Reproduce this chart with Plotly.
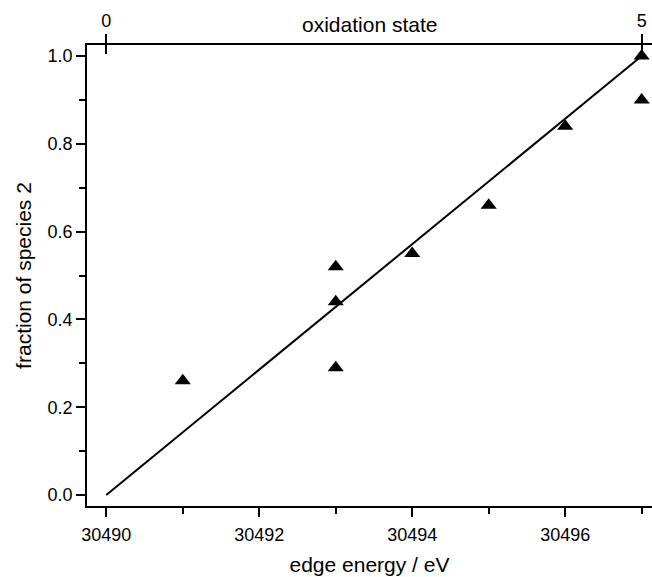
import plotly.graph_objects as go

# measured edge energies (eV) and fitted fraction of species 2
edge_energy = [30491, 30493, 30493, 30493, 30494, 30495, 30496, 30497, 30497]
fraction = [0.26, 0.52, 0.44, 0.29, 0.55, 0.66, 0.84, 1.00, 0.90]

# linear calibration between oxidation state 0 and 5
line_energy = [30490, 30497]
line_fraction = [0.0, 1.0]
ox_states = [0, 5]

x_range = [30489.748, 30497.135]
# oxidation state axis shares the energy axis: 0 -> 30490, 5 -> 30497
scale = (ox_states[1] - ox_states[0]) / (line_energy[1] - line_energy[0])
ox_range = [(x_range[0] - line_energy[0]) * scale, (x_range[1] - line_energy[0]) * scale]

font = "Liberation Sans, Arial, Helvetica, sans-serif"

fig = go.Figure()
fig.add_trace(go.Scatter(x=line_energy, y=line_fraction, mode="lines",
                         line=dict(color="black", width=2), showlegend=False))
fig.add_trace(go.Scatter(x=edge_energy, y=fraction, mode="markers",
                         marker=dict(symbol="triangle-up", size=14, color="black"),
                         showlegend=False, cliponaxis=False))

fig.update_layout(
    width=652, height=577,
    margin=dict(l=87, r=0, t=45, b=71),
    paper_bgcolor="white", plot_bgcolor="white",
    font=dict(family=font, color="black", size=18),
    xaxis=dict(range=x_range, tickvals=[30490, 30492, 30494, 30496],
               ticktext=["30490", "30492", "30494", "30496"],
               ticks="outside", ticklen=9, tickwidth=1.5, tickcolor="black",
               minor=dict(tickvals=[30491, 30493, 30495, 30497], ticks="outside",
                          ticklen=6, tickwidth=1.5, tickcolor="black"),
               showline=True, linecolor="black", linewidth=1.5,
               showgrid=False, zeroline=False,
               tickfont=dict(size=18), ticklabelstandoff=3,
               title=dict(text="edge energy / eV", font=dict(size=21), standoff=13)),
    xaxis2=dict(overlaying="x", side="top", range=ox_range,
                tickvals=ox_states, ticktext=[str(v) for v in ox_states],
                ticks="outside", ticklen=9, tickwidth=1.5, tickcolor="black",
                showline=True, linecolor="black", linewidth=1.5,
                showgrid=False, zeroline=False, tickfont=dict(size=18)),
    xaxis3=dict(overlaying="x", side="top", range=ox_range,
                tickvals=ox_states, showticklabels=False,
                ticks="inside", ticklen=9, tickwidth=1.5, tickcolor="black",
                showline=False, showgrid=False, zeroline=False),
    yaxis=dict(range=[-0.025, 1.025], tickvals=[0, 0.2, 0.4, 0.6, 0.8, 1.0],
               tickformat=".1f",
               ticks="outside", ticklen=9, tickwidth=1.5, tickcolor="black",
               minor=dict(tickvals=[0.1, 0.3, 0.5, 0.7, 0.9], ticks="outside",
                          ticklen=6, tickwidth=1.5, tickcolor="black"),
               showline=True, linecolor="black", linewidth=1.5,
               showgrid=False, zeroline=False,
               tickfont=dict(size=18),
               title=dict(text="fraction of species 2", font=dict(size=21), standoff=10)),
)

# anchor invisible traces so the top axes are drawn
fig.add_trace(go.Scatter(x=ox_states, y=[None, None], xaxis="x2", yaxis="y",
                         mode="markers", showlegend=False, hoverinfo="skip"))
fig.add_trace(go.Scatter(x=ox_states, y=[None, None], xaxis="x3", yaxis="y",
                         mode="markers", showlegend=False, hoverinfo="skip"))

fig.add_annotation(text="oxidation state", xref="paper", yref="paper",
                   x=0.5, y=1.0, yshift=21, showarrow=False,
                   font=dict(size=21), yanchor="middle")

fig.write_html("out.html")
